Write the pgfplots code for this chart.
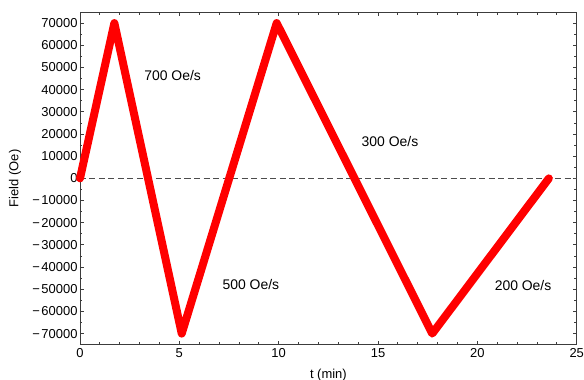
\documentclass[border=0pt]{standalone}
\usepackage{pgfplots}
\pgfplotsset{compat=1.18}
\usepackage{fontspec}
\setmainfont{Liberation Sans}
\definecolor{axgray}{RGB}{60,60,60}
\newcommand{\mn}{−\kern1.5bp}
\begin{document}
\begin{tikzpicture}
\path[use as bounding box] (-80bp,-35.3bp) rectangle (504bp,344.7bp);
\begin{axis}[
  at={(0,0)}, anchor=south west,
  scale only axis,
  width=496.7bp, height=332.7bp,
  xmin=0, xmax=25, ymin=-75000, ymax=75000,
  xtick={0,5,...,25}, minor x tick num=4,
  ytick={-70000,-60000,...,70000}, minor y tick num=1,
  scaled y ticks=false,
  yticklabels={\mn70000,\mn60000,\mn50000,\mn40000,\mn30000,\mn20000,\mn10000,0,10000,20000,30000,40000,50000,60000,70000},
  tick align=inside,
  major tick length=4bp, minor tick length=2.5bp,
  axis line style={axgray, line width=0.8bp},
  every tick/.style={axgray, line width=0.8bp},
  /pgf/number format/assume math mode=true,
  tick label style={font=\fontsize{13}{15}\selectfont, text=black},
  yticklabel style={xshift=1bp},
  label style={font=\fontsize{13}{15}\selectfont},
  xlabel={t (min)}, ylabel={Field (Oe)},
  xlabel style={at={(axis description cs:0.5,-0.091)}, anchor=center},
  ylabel style={at={(axis description cs:-0.131,0.5)}, anchor=center},
  clip=false,
]
\addplot[gray!60!black, line width=1.1bp, dash pattern=on 6bp off 3.5bp, forget plot] coordinates {(0,0) (25,0)};
\addplot[red, line width=8bp, line join=round, line cap=round] coordinates {
  (0,0) (1.73,70000) (5.12,-70000) (9.9,70000) (17.73,-70000) (23.6,0)
};
\node[font=\fontsize{14}{16}\selectfont] at (axis cs:4.66,46300) {700 Oe/s};
\node[font=\fontsize{14}{16}\selectfont] at (axis cs:15.6,16600) {300 Oe/s};
\node[font=\fontsize{14}{16}\selectfont] at (axis cs:8.6,-47700) {500 Oe/s};
\node[font=\fontsize{14}{16}\selectfont] at (axis cs:22.3,-48300) {200 Oe/s};
\end{axis}
\end{tikzpicture}
\end{document}
